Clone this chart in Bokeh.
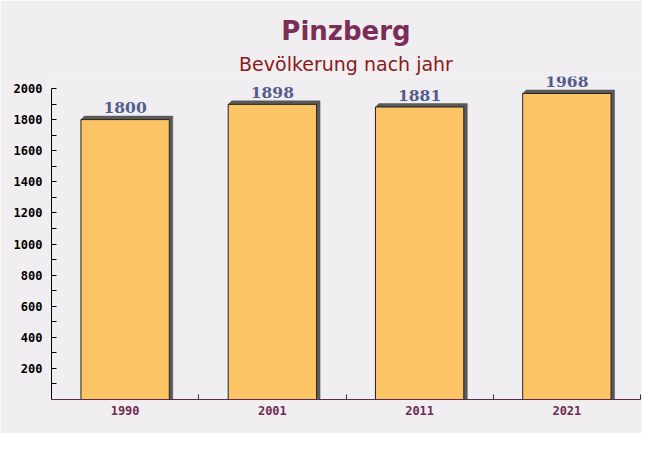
from bokeh.plotting import figure
from bokeh.models import Range1d, FixedTicker, Title, ColumnDataSource, LabelSet
from bokeh.core.properties import value
from bokeh.embed import file_html
from bokeh.resources import INLINE
import numpy as np

categories = ["1990", "2001", "2011", "2021"]
population = [1800, 1898, 1881, 1968]
y_ticks = [200, 400, 600, 800, 1000, 1200, 1400, 1600, 1800, 2000]

BG = "#f0eef0"
n = len(categories)
xc = np.arange(n) + 0.5
vals = np.array(population, dtype=float)
half = 0.30
px_per_unit = 311 / 2000.0
dx = 3.5 / 147.0
dy = 3.5 / px_per_unit
y_top = 2000 + 12 / px_per_unit   # room above the axis top for labels

p = figure(width=642, height=433, output_backend="svg", toolbar_location=None,
           x_range=Range1d(0, n), y_range=Range1d(0, y_top),
           min_border_left=51, min_border_right=2, min_border_bottom=34, min_border_top=76)
p.background_fill_color = BG
p.border_fill_color = BG
p.outline_line_color = None
p.grid.visible = False

sub = Title(text="Bevölkerung nach jahr", align="center", text_font="DejaVu Sans",
            text_font_size="19px", text_font_style="normal", text_color="#8b1a1a", standoff=3)
main = Title(text="Pinzberg", align="center", text_font="DejaVu Sans",
             text_font_size="26px", text_font_style="bold", text_color="#7a2d56", standoff=7)
p.add_layout(sub, "above")
p.add_layout(main, "above")

# shadows
xs, ys = [], []
for c, v in zip(xc, vals):
    l, r = c - half, c + half
    xs.append([l, l + dx, r + dx, r + dx, r])
    ys.append([v, v + dy, v + dy, 0, 0])
p.patches(xs, ys, fill_color="#5a5a5a", line_color="#5a5a5a", line_width=0.5)

src = ColumnDataSource(dict(x=xc, top=vals, label=[str(v) for v in population]))
p.vbar(x="x", top="top", bottom=0, width=2 * half, source=src,
       fill_color="#fcc464", line_color="#222222", line_width=1)
labels = LabelSet(x="x", y="top", text="label", source=src, text_align="center",
                  text_baseline="alphabetic", y_offset=6.5, text_font=value("DejaVu Serif"),
                  text_font_style="bold", text_font_size="15.5px", text_color="#535c8c")
p.add_layout(labels)

xa = p.xaxis[0]
xa.ticker = FixedTicker(ticks=list(xc), minor_ticks=list(np.arange(1, n + 1)))
xa.major_label_overrides = {float(c): lab for c, lab in zip(xc, categories)}
xa.major_tick_in = 0
xa.major_tick_out = 0
xa.minor_tick_in = 5
xa.minor_tick_out = 0
xa.minor_tick_line_color = "#333333"
xa.axis_line_color = "#5a2a48"
xa.major_label_text_font = "DejaVu Sans Mono"
xa.major_label_text_font_style = "bold"
xa.major_label_text_font_size = "12px"
xa.major_label_text_color = "#6e2b50"
xa.major_label_standoff = 6

ya = p.yaxis[0]
ya.bounds = (0, 2000)
ya.ticker = FixedTicker(ticks=y_ticks, minor_ticks=[t - 100 for t in y_ticks])
ya.major_tick_in = 5
ya.major_tick_out = 0
ya.minor_tick_in = 5
ya.minor_tick_out = 0
ya.axis_line_color = "#000000"
ya.major_tick_line_color = "#000000"
ya.minor_tick_line_color = "#000000"
ya.major_label_text_font = "DejaVu Sans Mono"
ya.major_label_text_font_style = "bold"
ya.major_label_text_font_size = "12px"
ya.major_label_text_color = "#000000"
ya.major_label_standoff = 9

open("out.html", "w").write(file_html(p, INLINE))
